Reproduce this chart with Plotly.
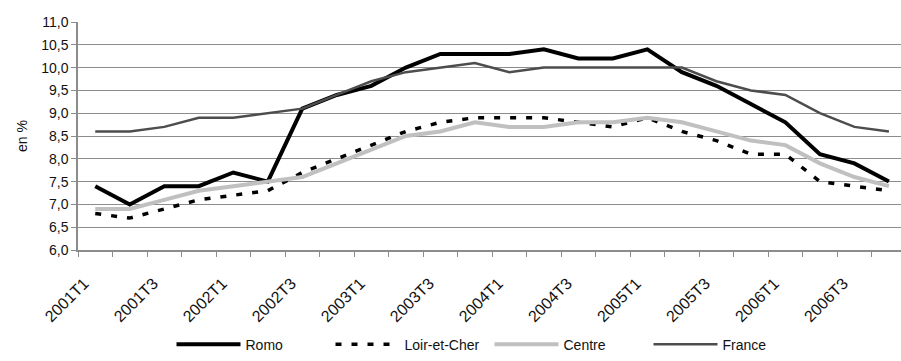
import plotly.graph_objects as go

# Quarterly unemployment rates (%)
quarters = [
    "2001T1", "2001T2", "2001T3", "2001T4",
    "2002T1", "2002T2", "2002T3", "2002T4",
    "2003T1", "2003T2", "2003T3", "2003T4",
    "2004T1", "2004T2", "2004T3", "2004T4",
    "2005T1", "2005T2", "2005T3", "2005T4",
    "2006T1", "2006T2", "2006T3", "2006T4",
]
romo = [7.4, 7.0, 7.4, 7.4, 7.7, 7.5, 9.1, 9.4, 9.6, 10.0, 10.3, 10.3,
        10.3, 10.4, 10.2, 10.2, 10.4, 9.9, 9.6, 9.2, 8.8, 8.1, 7.9, 7.5]
loir_et_cher = [6.8, 6.7, 6.9, 7.1, 7.2, 7.3, 7.7, 8.0, 8.3, 8.6, 8.8, 8.9,
                8.9, 8.9, 8.8, 8.7, 8.9, 8.6, 8.4, 8.1, 8.1, 7.5, 7.4, 7.3]
centre = [6.9, 6.9, 7.1, 7.3, 7.4, 7.5, 7.6, 7.9, 8.2, 8.5, 8.6, 8.8,
          8.7, 8.7, 8.8, 8.8, 8.9, 8.8, 8.6, 8.4, 8.3, 7.9, 7.6, 7.4]
france = [8.6, 8.6, 8.7, 8.9, 8.9, 9.0, 9.1, 9.4, 9.7, 9.9, 10.0, 10.1,
          9.9, 10.0, 10.0, 10.0, 10.0, 10.0, 9.7, 9.5, 9.4, 9.0, 8.7, 8.6]

x_idx = list(range(len(quarters)))
label_idx = x_idx[::2]
label_txt = quarters[::2]

FONT = "Liberation Sans, Arial, sans-serif"
GRID = "#8c8c8c"

fig = go.Figure()
fig.add_trace(go.Scatter(x=x_idx, y=romo, name="Romo", mode="lines",
                         line=dict(color="#000000", width=4)))
fig.add_trace(go.Scatter(x=x_idx, y=loir_et_cher, name="Loir-et-Cher", mode="lines",
                         line=dict(color="#000000", width=3.5, dash="6px,10px")))
fig.add_trace(go.Scatter(x=x_idx, y=centre, name="Centre", mode="lines",
                         line=dict(color="#c0c0c0", width=4)))
fig.add_trace(go.Scatter(x=x_idx, y=france, name="France", mode="lines",
                         line=dict(color="#4d4d4d", width=2.5)))

fig.update_layout(
    width=901, height=361,
    margin=dict(l=78, r=0, t=22, b=106),
    paper_bgcolor="white", plot_bgcolor="white",
    separators=", ",
    font=dict(family=FONT, size=14, color="#111111"),
    showlegend=True,
    legend=dict(orientation="h", x=0.5, xanchor="center", y=-0.415, yanchor="middle",
                font=dict(size=14), traceorder="normal", itemwidth=64,
                entrywidth=80, entrywidthmode="pixels"),
    xaxis=dict(
        range=[-0.5, 23.35],
        tickmode="array", tickvals=label_idx, ticktext=label_txt,
        tickangle=-45, ticks="", showgrid=False, zeroline=False,
        showline=True, linecolor=GRID, linewidth=1.5,
        tickfont=dict(size=16), ticklabelstandoff=16, ticklabelshift=-11,
        minor=dict(ticks="outside", tickmode="linear", tick0=-0.5, dtick=1,
                   ticklen=5, tickcolor=GRID, tickwidth=1, showgrid=False),
    ),
    yaxis=dict(
        range=[6, 11], dtick=0.5, tick0=6, tickformat=".1f",
        showgrid=True, gridcolor=GRID, gridwidth=1.2, zeroline=False,
        showline=True, linecolor=GRID, linewidth=1.5,
        ticks="outside", ticklen=5, tickcolor=GRID,
        tickfont=dict(size=14),
        title=dict(text="en %", font=dict(size=14), standoff=10),
    ),
)

fig.write_html("out.html")
